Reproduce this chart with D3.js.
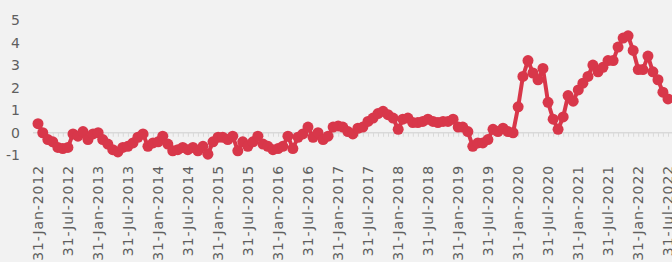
<!DOCTYPE html>
<html>
<head>
<meta charset="utf-8">
<script src="https://cdn.jsdelivr.net/npm/d3@7"></script>
<style>
  body { margin: 0; background: #f2f2f2; }
  svg { display: block; }
  .textos { font-family: "DejaVu Sans", sans-serif; font-size: 14px; fill: #5f5f5f; }
</style>
</head>
<body>
<script>
var anchoSvg = 672,
    altoSvg = 262,
    color = '#d8374a';

// mensual, fin de mes, desde enero 2012
var inicio = '31-Jan-2012';
var valores = [
  0.4, 0.0, -0.3, -0.4, -0.65, -0.7, -0.65, -0.05, -0.15, 0.05,
  -0.3, -0.05, 0.0, -0.3, -0.5, -0.75, -0.85, -0.65, -0.6, -0.45,
  -0.2, -0.05, -0.6, -0.45, -0.4, -0.15, -0.5, -0.8, -0.75, -0.65,
  -0.75, -0.65, -0.8, -0.6, -0.95, -0.4, -0.2,
  -0.2, -0.3, -0.15, -0.8, -0.4, -0.6, -0.4, -0.15, -0.5, -0.6,
  -0.75, -0.7, -0.6, -0.15, -0.7, -0.2, -0.05, 0.25, -0.2, 0.0,
  -0.3, -0.15, 0.25, 0.3, 0.25, 0.05, -0.05, 0.2, 0.25, 0.5,
  0.65, 0.85, 0.95, 0.8, 0.65, 0.15, 0.6, 0.65, 0.45, 0.45,
  0.5, 0.6, 0.5, 0.45, 0.5,
  0.5, 0.6, 0.25, 0.25, 0.05, -0.6, -0.45, -0.45, -0.3,
  0.15, 0.05, 0.2, 0.05, 0.0, 1.15, 2.5, 3.2, 2.65, 2.35,
  2.85, 1.35, 0.6, 0.15, 0.7, 1.65, 1.4, 1.9, 2.2, 2.5,
  3.0, 2.7, 2.9, 3.2, 3.2, 3.8, 4.2, 4.3, 3.65, 2.8,
  2.8, 3.4, 2.7, 2.35, 1.8, 1.5
];
var ticksY = [-1, 0, 1, 2, 3, 4, 5];
var etiquetasX = [
  '31-Jan-2012', '31-Jul-2012', '31-Jan-2013', '31-Jul-2013', '31-Jan-2014', '31-Jul-2014',
  '31-Jan-2015', '31-Jul-2015', '31-Jan-2016', '31-Jul-2016', '31-Jan-2017', '31-Jul-2017',
  '31-Jan-2018', '31-Jul-2018', '31-Jan-2019', '31-Jul-2019', '31-Jan-2020', '31-Jul-2020',
  '31-Jan-2021', '31-Jul-2021', '31-Jan-2022', '31-Jul-2022'
];

var parseFecha = d3.timeParse('%d-%b-%Y');
var fecha0 = parseFecha(inicio);

// fin de cada mes
var datos = valores.map((v, i) => {
    var primero = d3.timeMonth.offset(d3.timeMonth.floor(fecha0), i + 1);
    return {Fecha: d3.timeDay.offset(primero, -1), Valor: v};
});

var escalaX = d3.scaleTime()
    .domain([datos[0].Fecha, datos[datos.length - 1].Fecha])
    .range([38, 668]);

var escalaY = d3.scaleLinear()
    .domain([-1, 5])
    .range([155.3, 20]);

var elementoSvg = d3.select('body')
    .append('svg')
    .attr('width', anchoSvg)
    .attr('height', altoSvg);

elementoSvg.append('rect')
    .attr('width', anchoSvg)
    .attr('height', altoSvg)
    .attr('fill', '#f2f2f2');

// eje X en cero con marcas mensuales
var ejeX = d3.axisBottom(escalaX)
    .tickValues(datos.map(d => d.Fecha))
    .tickSize(4)
    .tickSizeOuter(0)
    .tickFormat('');

var gEje = elementoSvg.append('g')
    .attr('class', 'ejeX')
    .attr('transform', 'translate(0,' + escalaY(0) + ')')
    .call(ejeX);
gEje.select('.domain')
    .attr('d', 'M33,0H' + anchoSvg)
    .attr('stroke', '#d9d9d9')
    .attr('stroke-width', 1.5);
gEje.selectAll('.tick line')
    .attr('stroke', '#d9d9d9');

// etiquetas del eje X giradas
elementoSvg.append('g')
    .selectAll('text')
    .data(etiquetasX)
    .enter()
    .append('text')
    .attr('class', 'textos')
    .attr('text-anchor', 'end')
    .attr('letter-spacing', '0.9px')
    .attr('transform', d => 'translate(' + (escalaX(parseFecha(d)) + 5) + ',165) rotate(-90)')
    .text(d => d);

// eje Y solo etiquetas
elementoSvg.append('g')
    .selectAll('text')
    .data(ticksY)
    .enter()
    .append('text')
    .attr('class', 'textos')
    .attr('text-anchor', 'end')
    .attr('x', 20)
    .attr('y', d => escalaY(d) + 5)
    .text(d => d);

var linea = d3.line()
    .x(d => escalaX(d.Fecha))
    .y(d => escalaY(d.Valor));

elementoSvg.append('path')
    .datum(datos)
    .attr('d', linea)
    .attr('fill', 'none')
    .attr('stroke', color)
    .attr('stroke-width', 4)
    .attr('stroke-linejoin', 'round');

elementoSvg.append('g')
    .selectAll('circle')
    .data(datos)
    .enter()
    .append('circle')
    .attr('cx', d => escalaX(d.Fecha))
    .attr('cy', d => escalaY(d.Valor))
    .attr('r', 5.5)
    .attr('fill', color);
</script>
</body>
</html>
